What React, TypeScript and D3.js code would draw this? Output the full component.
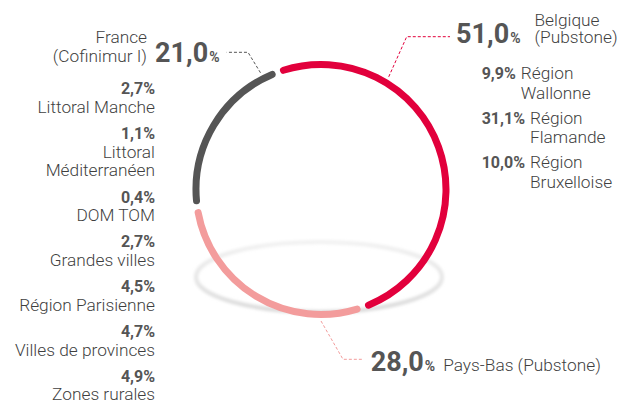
import React, { useEffect, useRef } from "react";
import * as d3 from "d3";

// ---- data ----
const countries = ["Belgique", "Pays-Bas", "France"];
const countrySub = ["(Pubstone)", "(Pubstone)", "(Cofinimur I)"];
const shares = [51.0, 28.0, 21.0];
const shareLabels = ["51,0", "28,0", "21,0"];
const colors = ["#e2003c", "#f39c9c", "#555555"];

const belgiumPcts = ["9,9%", "31,1%", "10,0%"];
const belgiumRegions = [["Région", "Wallonne"], ["Région", "Flamande"], ["Région", "Bruxelloise"]];

const francePcts = ["2,7%", "1,1%", "0,4%", "2,7%", "4,5%", "4,7%", "4,9%"];
const franceRegions = [
  ["Littoral Manche"],
  ["Littoral", "Méditerranéen"],
  ["DOM TOM"],
  ["Grandes villes"],
  ["Région Parisienne"],
  ["Villes de provinces"],
  ["Zones rurales"],
];

const W = 630;
const H = 403;
const FONT = "Roboto, 'Open Sans', sans-serif";
const TXT = "#3f3f3f";
const BOLD = "#555555";
const LBL = 17.3;
const PCT = 16;

export default function App() {
  const ref = useRef<SVGSVGElement | null>(null);

  useEffect(() => {
    const svg = d3.select(ref.current);
    svg.selectAll("*").remove();

    const cx = 321, cy = 189.5, r = 125;
    const deg = Math.PI / 180;
    const pad = 5.5 * deg;

    const defs = svg.append("defs");
    defs.append("filter").attr("id", "blur").attr("x", "-20%").attr("y", "-50%").attr("width", "140%").attr("height", "200%")
      .append("feGaussianBlur").attr("stdDeviation", 1.4);
    const grad = defs.append("linearGradient").attr("id", "shadowGrad").attr("x1", 0).attr("y1", 0).attr("x2", 0).attr("y2", 1);
    grad.append("stop").attr("offset", "0%").attr("stop-color", "#f1f1f1");
    grad.append("stop").attr("offset", "100%").attr("stop-color", "#dadada");

    // shadow ellipse
    svg.append("ellipse")
      .attr("cx", 319).attr("cy", 277).attr("rx", 123).attr("ry", 35)
      .attr("fill", "none").attr("stroke", "url(#shadowGrad)").attr("stroke-width", 4)
      .attr("filter", "url(#blur)");

    // ring
    const pie = d3.pie<number>().sort(null).value((d) => d)
      .startAngle(-20.25 * deg).endAngle(339.75 * deg).padAngle(pad);
    const arcs = pie(shares);
    arcs.forEach((a, i) => {
      const p = d3.path();
      const a0 = a.startAngle + pad / 2 - Math.PI / 2;
      const a1 = a.endAngle - pad / 2 - Math.PI / 2;
      p.arc(cx, cy, r, a0, a1, false);
      svg.append("path").attr("d", p.toString()).attr("fill", "none")
        .attr("stroke", colors[i]).attr("stroke-width", 7).attr("stroke-linecap", "round");
    });

    // leader lines
    const leaderAngles = [31, 180, -27.4];
    const leaderR = 131.5;
    const start = (i: number) => {
      const a = leaderAngles[i] * deg;
      return [cx + leaderR * Math.sin(a), cy - leaderR * Math.cos(a)];
    };
    const leaders = [
      [start(0), [406.7, 36.7], [450, 36.7]],
      [start(1), [343, 359.3], [363, 359.3]],
      [start(2), [248, 52.3], [226.7, 52.3]],
    ];
    leaders.forEach((pts, i) => {
      svg.append("path").attr("d", d3.line()(pts as [number, number][]))
        .attr("fill", "none").attr("stroke", colors[i]).attr("stroke-width", 1)
        .attr("stroke-dasharray", "3,2");
    });

    const g = svg.append("g").attr("font-family", FONT);

    const bigNum = (x: number, y: number, i: number) => {
      const t = g.append("text").attr("x", x).attr("y", y).attr("fill", BOLD).attr("font-weight", 700);
      t.append("tspan").attr("font-size", 27).text(shareLabels[i]);
      t.append("tspan").attr("font-size", 14).attr("dx", 1).text("%");
      return t;
    };
    const label = (x: number, y: number, s: string, anchor = "start") =>
      g.append("text").attr("x", x).attr("y", y).attr("text-anchor", anchor)
        .attr("font-size", LBL).attr("font-weight", 300).attr("fill", TXT).text(s);

    // Belgique
    const tb = bigNum(456, 43.3, 0);
    const bEnd = 456 + (tb.node() as SVGTextElement).getComputedTextLength();
    label(bEnd + 15, 25.5, countries[0]);
    label(bEnd + 15, 43, countrySub[0]);

    belgiumPcts.forEach((p, i) => {
      const y = 79.3 + i * 44.5;
      const t = g.append("text").attr("x", 481.7).attr("y", y).attr("font-size", PCT).attr("font-weight", 700).attr("fill", BOLD).text(p);
      const x2 = 481.7 + (t.node() as SVGTextElement).getComputedTextLength() + 5;
      belgiumRegions[i].forEach((line, j) => label(x2, y + j * 19.5, line));
    });

    // Pays-Bas
    const tp = bigNum(370.7, 370.7, 1);
    tp.append("tspan").attr("font-size", LBL).attr("font-weight", 300).attr("fill", TXT).attr("dx", 8).text(`${countries[1]} ${countrySub[1]}`);

    // France
    bigNum(155, 62.3, 2);
    label(147, 43.3, countries[2], "end");
    label(147, 62, countrySub[2], "end");

    let y = 94.3;
    francePcts.forEach((p, i) => {
      g.append("text").attr("x", 155).attr("y", y).attr("text-anchor", "end").attr("font-size", PCT).attr("font-weight", 700).attr("fill", BOLD).text(p);
      franceRegions[i].forEach((line) => {
        y += 18.6;
        label(155, y, line, "end");
      });
      y += 26.2;
    });
  }, []);

  return (
    <svg ref={ref} width={W} height={H} style={{ position: "absolute", left: 0, top: 0, background: "#fff" }} />
  );
}
